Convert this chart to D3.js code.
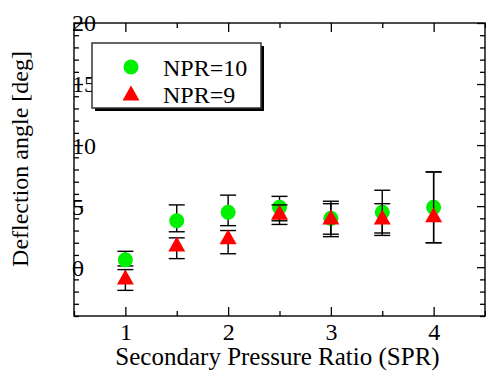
<!DOCTYPE html>
<html>
<head>
<meta charset="utf-8">
<script src="https://cdn.jsdelivr.net/npm/d3@7"></script>
<style>
  html, body { margin: 0; padding: 0; background: #fff; }
  svg { display: block; font-family: "Liberation Serif", "Times New Roman", serif; }
</style>
</head>
<body>
<div id="chart"></div>
<script>
// data
const spr = [1, 1.5, 2, 2.5, 3, 3.5, 4];
const npr10 = [0.6, 3.8, 4.5, 4.9, 4.0, 4.5, 4.9];
const npr10Low = [0.1, 2.9, 3.4, 3.5, 2.5, 2.6, 2.0];
const npr10High = [1.3, 5.1, 5.9, 5.8, 5.4, 6.3, 7.8];
const npr9 = [-0.8, 1.9, 2.5, 4.5, 4.1, 4.1, 4.3];
const npr9Low = [-1.9, 0.7, 1.1, 3.8, 2.7, 2.8, 2.0];
const npr9High = [-0.2, 2.4, 3.0, 5.1, 5.2, 5.2, 7.8];

const xMajor = [1, 2, 3, 4];
const xMinor = [0.5, 1.5, 2.5, 3.5, 4.5];
const yMajor = [0, 5, 10, 15, 20];
const yMinor = d3.range(-4, 21).filter(v => v % 5 !== 0);

const legendLabels = ["NPR=10", "NPR=9"];

/**
 * Layout.
 */
const width = 486, height = 371;
const plot = { left: 74, right: 485, top: 23, bottom: 316 };
const fontSize = 24;
const green = "#00f000", red = "#ff0000";

const x = d3.scaleLinear().domain([0.5, 4.5]).range([plot.left, plot.right]);
const y = d3.scaleLinear().domain([-4, 20]).range([plot.bottom, plot.top]);

const svg = d3.select("#chart").append("svg")
  .attr("width", width)
  .attr("height", height);

/**
 * Axes: ticks point inward on all four sides.
 */
const styleAxis = g => {
  g.attr("font-family", null).attr("font-size", fontSize);
  g.select(".domain").remove();
  g.selectAll("line").attr("stroke", "#000").attr("stroke-width", 1.3);
};

svg.append("g")
  .attr("transform", `translate(0,${plot.bottom})`)
  .call(d3.axisBottom(x).tickValues(xMajor).tickSize(-9).tickFormat(d3.format("d")))
  .call(styleAxis)
  .call(g => g.selectAll("text").attr("fill", "#000").attr("dy", null).attr("y", 24));

svg.append("g")
  .attr("transform", `translate(0,${plot.bottom})`)
  .call(d3.axisBottom(x).tickValues(xMinor).tickSize(-5).tickFormat(""))
  .call(styleAxis);

svg.append("g")
  .attr("transform", `translate(0,${plot.top})`)
  .call(d3.axisTop(x).tickValues(xMajor).tickSize(-9).tickFormat(""))
  .call(styleAxis);

svg.append("g")
  .attr("transform", `translate(0,${plot.top})`)
  .call(d3.axisTop(x).tickValues(xMinor).tickSize(-5).tickFormat(""))
  .call(styleAxis);

svg.append("g")
  .attr("transform", `translate(${plot.left},0)`)
  .call(d3.axisLeft(y).tickValues(yMinor).tickSize(-5).tickFormat(""))
  .call(styleAxis);

svg.append("g")
  .attr("transform", `translate(${plot.right},0)`)
  .call(d3.axisRight(y).tickValues(yMajor).tickSize(-8).tickFormat(""))
  .call(styleAxis);

svg.append("g")
  .attr("transform", `translate(${plot.right},0)`)
  .call(d3.axisRight(y).tickValues(yMinor).tickSize(-5).tickFormat(""))
  .call(styleAxis);

// the y labels sit on top of the left axis line, as in the original
svg.append("g")
  .attr("transform", `translate(${plot.left},0)`)
  .call(d3.axisLeft(y).tickValues(yMajor).tickSize(-9).tickFormat(d3.format("d")))
  .call(styleAxis)
  .call(g => g.selectAll("text").attr("fill", "#000")
    .attr("text-anchor", "start").attr("x", -2).attr("dy", "0.33em"));

svg.append("rect")
  .attr("x", plot.left).attr("y", plot.top)
  .attr("width", plot.right - plot.left).attr("height", plot.bottom - plot.top)
  .attr("fill", "none").attr("stroke", "#000").attr("stroke-width", 1.4);

svg.append("text")
  .attr("x", (plot.left + plot.right) / 2 - 2)
  .attr("y", 365)
  .attr("text-anchor", "middle")
  .attr("font-size", 25)
  .text("Secondary Pressure Ratio (SPR)");

svg.append("text")
  .attr("transform", "translate(28,159) rotate(-90)")
  .attr("text-anchor", "middle")
  .attr("font-size", fontSize)
  .text("Deflection angle [deg]");

/**
 * Series.
 */
const triangle = "M0,-7.5 L8.5,7.5 L-8.5,7.5 Z";

const drawErrorBars = (lows, highs) => {
  const g = svg.append("g").attr("stroke", "#000").attr("stroke-width", 1.4);
  spr.forEach((s, i) => {
    const cx = x(s);
    g.append("line").attr("x1", cx).attr("x2", cx).attr("y1", y(lows[i])).attr("y2", y(highs[i]));
    g.append("line").attr("x1", cx - 8).attr("x2", cx + 8).attr("y1", y(lows[i])).attr("y2", y(lows[i]));
    g.append("line").attr("x1", cx - 8).attr("x2", cx + 8).attr("y1", y(highs[i])).attr("y2", y(highs[i]));
  });
};

drawErrorBars(npr10Low, npr10High);
svg.append("g").selectAll("circle")
  .data(npr10)
  .enter().append("circle")
    .attr("cx", (d, i) => x(spr[i]))
    .attr("cy", d => y(d))
    .attr("r", 7.5)
    .attr("fill", green);

drawErrorBars(npr9Low, npr9High);
svg.append("g").selectAll("path")
  .data(npr9)
  .enter().append("path")
    .attr("d", triangle)
    .attr("transform", (d, i) => `translate(${x(spr[i])},${y(d)})`)
    .attr("fill", red);

/**
 * Legend with drop shadow.
 */
const legend = svg.append("g");
legend.append("rect")
  .attr("x", 95).attr("y", 46).attr("width", 169).attr("height", 65)
  .attr("fill", "#000");
legend.append("rect")
  .attr("x", 92).attr("y", 43).attr("width", 169).attr("height", 65)
  .attr("fill", "#fff").attr("stroke", "#333").attr("stroke-width", 1.5);

legend.append("circle").attr("cx", 131).attr("cy", 67).attr("r", 7.5).attr("fill", green);
legend.append("path").attr("d", triangle).attr("transform", "translate(131,93)").attr("fill", red);

legend.selectAll("text.label")
  .data(legendLabels)
  .enter().append("text")
    .attr("class", "label")
    .attr("x", 163)
    .attr("y", (d, i) => 76 + i * 27)
    .attr("font-size", fontSize)
    .text(d => d);
</script>
</body>
</html>
